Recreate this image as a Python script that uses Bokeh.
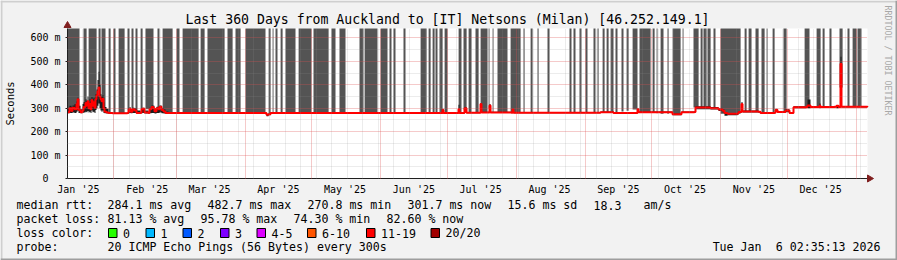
import math
import datetime as dt
import numpy as np
from bokeh.plotting import figure
from bokeh.models import (FixedTicker, Label, BoxAnnotation, PolyAnnotation, Range1d,
                          LinearAxis, Grid, CustomJSTickFormatter)
from bokeh.embed import file_html
from bokeh.resources import INLINE

# ---------------- data ----------------
title_text = "Last 360 Days from Auckland to [IT] Netsons (Milan) [46.252.149.1]"
t_start = dt.datetime(2025, 1, 11, 2, 35, 13)
t_end = dt.datetime(2026, 1, 6, 2, 35, 13)

month_labels = ["Jan '25", "Feb '25", "Mar '25", "Apr '25", "May '25", "Jun '25",
                "Jul '25", "Aug '25", "Sep '25", "Oct '25", "Nov '25", "Dec '25"]
y_ticks = [0, 100, 200, 300, 400, 500, 600]
y_tick_labels = ["0  ", "100 m", "200 m", "300 m", "400 m", "500 m", "600 m"]
y_minor = [50, 150, 250, 350, 450, 550]
y_max = 640

# grey smoke bands (days since start of graph)
smoke_start_day = [0.0, 7.2, 9.5, 14.0, 15.3, 18.5, 20.7, 23.0, 27.0, 28.8, 30.6, 32.9, 35.1,
                   40.5, 42.8, 49.1, 51.8, 59.9, 63.0, 72.0, 75.6, 80.1, 90.5, 92.3, 93.6,
                   95.9, 98.1, 104.0, 110.7, 118.8, 122.4, 131.4, 133.7, 140.9, 144.9, 146.7,
                   151.2, 158.9, 162.5, 164.3, 165.6, 167.4, 169.7, 176.0, 178.2, 180.5, 183.6,
                   185.9, 189.5, 191.3, 193.5, 199.4, 205.2, 208.4, 211.5, 216.0, 225.9, 227.7,
                   230.4, 233.1, 236.7, 238.5, 240.8, 242.6, 244.4, 246.6, 249.3, 251.6, 254.3,
                   257.4, 263.3, 265.1, 266.9, 270.0, 272.3, 276.8, 281.7, 284.9, 286.2, 288.0,
                   290.7, 293.9, 304.7, 306.5, 309.6, 312.3, 314.6, 317.3, 322.2, 331.7, 337.1,
                   339.8, 342.9, 347.4, 351.0, 353.3, 355.5]
smoke_end_day = [5.4, 8.6, 13.1, 14.9, 17.1, 19.4, 21.6, 25.7, 27.9, 29.7, 31.5, 33.8, 38.7,
                 41.4, 47.3, 50.4, 59.0, 61.7, 70.7, 74.3, 77.9, 89.1, 91.4, 92.7, 94.5,
                 96.8, 102.6, 109.8, 117.5, 120.6, 125.1, 133.2, 139.5, 144.0, 145.8, 147.6,
                 152.1, 161.6, 163.4, 165.2, 166.5, 168.8, 171.0, 177.3, 179.6, 181.8, 185.0,
                 189.0, 189.9, 191.7, 198.0, 203.9, 205.7, 209.3, 212.0, 216.9, 226.8, 228.6,
                 231.3, 234.0, 237.6, 239.0, 241.7, 243.5, 245.7, 247.5, 250.2, 252.5, 256.5,
                 262.4, 264.2, 265.5, 268.2, 270.5, 275.9, 277.2, 284.0, 285.8, 287.6, 289.4,
                 291.6, 302.9, 305.6, 307.8, 311.0, 313.7, 315.0, 318.2, 323.6, 333.9, 338.9,
                 340.7, 343.8, 348.8, 351.9, 355.1, 357.3]

# median rtt (ms) with dark smoke range around it
med_day = [0.0, 0.9, 1.8, 2.25, 3.15, 4.05, 4.5, 4.95, 5.85, 6.75, 7.2, 8.1, 8.55, 9.0, 9.45,
           9.9, 10.35, 10.8, 11.25, 11.7, 12.15, 12.6, 13.05, 13.5, 13.95, 14.4, 14.85, 15.3,
           15.75, 16.2, 16.65, 17.55, 18.45, 19.35, 20.25, 27.0, 27.45, 27.9, 28.35, 29.25,
           30.15, 31.05, 32.85, 33.3, 33.75, 34.65, 36.45, 36.9, 37.8, 38.7, 39.15, 40.05,
           40.95, 41.4, 42.3, 43.2, 44.1, 45.45, 89.1, 89.55, 90.45, 91.35, 167.85, 168.75,
           169.2, 175.5, 175.95, 176.4, 177.75, 178.65, 179.55, 185.4, 185.85, 186.3, 189.45,
           189.9, 190.35, 199.8, 200.25, 200.7, 239.85, 245.7, 256.5, 256.95, 272.25, 275.85,
           276.3, 282.15, 282.6, 289.35, 292.95, 294.75, 295.65, 297.0, 301.5, 301.95, 303.3,
           303.75, 310.95, 311.85, 318.15, 318.6, 319.5, 322.65, 323.1, 324.9, 326.25, 326.7,
           332.55, 333.0, 334.35, 337.95, 338.4, 338.85, 345.15, 346.05, 346.95, 347.85,
           348.3, 360.0]
med_ms = [283, 300, 288, 302, 296, 318, 338, 292, 283, 290, 305, 322, 312, 330, 300,
          318, 296, 335, 310, 325, 302, 338, 355, 372, 388, 350, 338, 330,
          340, 300, 285, 282, 279, 280, 278, 279, 292, 298, 285, 296,
          290, 280, 281, 295, 298, 282, 279, 296, 305, 300, 287, 300,
          296, 306, 292, 286, 280, 279, 279, 272, 274, 279, 279, 292,
          280, 280, 296, 280, 280, 300, 281, 281, 318, 282, 282,
          312, 282, 281, 294, 281, 283, 280, 296, 283, 274, 274,
          283, 284, 303, 300, 294, 289, 279, 276, 277, 284, 318,
          286, 285, 280, 281, 292, 284, 284, 290, 279, 279, 304,
          305, 312, 305, 305, 310, 305, 306, 310, 305, 490,
          306, 305]
smoke_lo_ms = [278, 280, 279, 282, 280, 285, 290, 280, 278, 280, 282, 285, 283, 288, 282,
               285, 280, 290, 283, 285, 280, 292, 300, 310, 320, 300, 290, 285,
               290, 280, 278, 277, 276, 276, 275, 276, 278, 280, 278, 280,
               279, 276, 277, 278, 280, 277, 276, 278, 280, 280, 277, 280,
               279, 282, 278, 277, 276, 276, 276, 266, 270, 276, 276, 280,
               277, 277, 282, 277, 277, 285, 278, 278, 290, 279, 279,
               290, 279, 278, 285, 278, 280, 277, 285, 280, 270, 270,
               280, 281, 296, 294, 288, 282, 268, 270, 272, 280, 295,
               282, 281, 277, 278, 284, 280, 280, 283, 276, 276, 300,
               302, 300, 302, 302, 300, 302, 303, 300, 302, 420,
               303, 302]
smoke_hi_ms = [300, 310, 305, 312, 318, 330, 345, 310, 296, 318, 325, 338, 332, 350, 320,
               340, 330, 348, 338, 345, 330, 360, 380, 420, 455, 400, 360, 350,
               355, 325, 305, 298, 284, 283, 281, 282, 300, 305, 295, 302,
               300, 290, 285, 300, 302, 290, 283, 302, 312, 310, 298, 306,
               300, 312, 300, 294, 286, 282, 282, 276, 277, 282, 282, 298,
               283, 283, 315, 283, 283, 305, 284, 284, 320, 285, 285,
               318, 285, 284, 298, 284, 286, 283, 300, 286, 277, 277,
               286, 287, 308, 305, 300, 294, 283, 279, 280, 288, 326,
               290, 288, 283, 284, 298, 287, 287, 296, 282, 282, 308,
               308, 337, 308, 308, 320, 308, 309, 314, 308, 520,
               309, 308]

rtt_items = ["284.1 ms avg", "482.7 ms max", "270.8 ms min", "301.7 ms now", "15.6 ms sd", "18.3", "am/s"]
loss_items = ["81.13 % avg", "95.78 % max", "74.30 % min", "82.60 % now"]
loss_color_labels = ["0", "1", "2", "3", "4-5", "6-10", "11-19", "20/20"]
loss_colors = ["#26ff00", "#00b8ff", "#0059ff", "#7e00ff", "#dd00ff", "#ff5500", "#ff0000", "#a10000"]
probe_text = "20 ICMP Echo Pings (56 Bytes) every 300s"
stamp_parts = ["Tue Jan", "6 02:35:13 2026"]   # "Tue Jan  6 02:35:13 2026"

# ---------------- derived ----------------
def day_of(t):
    return (t - t_start).total_seconds() / 86400.0

span_days = day_of(t_end)
month_firsts = [dt.datetime(2025, m, 1) for m in range(1, 13)] + [dt.datetime(2026, 1, 1)]
label_days = [day_of(m + dt.timedelta(days=15)) for m in month_firsts[:12]]
grid_days = [day_of(m) for m in month_firsts if t_start <= m <= t_end]
week_days = []
w = dt.datetime(2025, 1, 18)
while w <= t_end:
    week_days.append(day_of(w))
    w += dt.timedelta(days=7)

# ---------------- layout ----------------
W, H = 897, 260
FL, FT, FW, FH = 67, 28, 800, 150      # data area inside the canvas (pixels)
FB = FT + FH
MONO = "DejaVu Sans Mono"
CW = 7.0                                # legend character advance
kx = span_days / FW                     # days per pixel
ky = y_max / FH                         # ms per pixel

x_range = Range1d(-FL * kx, span_days + (W - FL - FW) * kx)
y_range = Range1d(-(H - FB) * ky, y_max + FT * ky)

def sx(x):
    return x

def sy(y):
    return H - y

p = figure(width=W, height=H, x_range=x_range, y_range=y_range,
           output_backend="svg", toolbar_location=None,
           x_axis_location=None, y_axis_location=None,
           min_border=0, min_border_left=0, min_border_right=0,
           min_border_top=0, min_border_bottom=0,
           background_fill_color="#F2F2F2", border_fill_color="#F2F2F2",
           outline_line_color=None)
p.grid.visible = False

# white canvas of the graph
p.quad(left=[0], right=[span_days], bottom=[0], top=[y_max], fill_color="white", line_color=None)

# smoke bars
s0 = np.array(smoke_start_day)
s1 = np.array(smoke_end_day)
bar_bottom = np.interp((s0 + s1) / 2, med_day, med_ms)
p.quad(left=s0, right=s1, bottom=bar_bottom, top=y_max,
       fill_color="#545454", line_color=None)

p.varea_step(x=med_day, y1=smoke_lo_ms, y2=smoke_hi_ms, step_mode="after",
             fill_color="#1c1c1c")
p.step(x=med_day, y=med_ms, mode="after", line_color="#ff0000", line_width=2)

# grids
xg = Grid(dimension=0, ticker=FixedTicker(ticks=grid_days, minor_ticks=week_days),
          bounds=(0, span_days), cross_bounds=(0, y_max))
yg = Grid(dimension=1, ticker=FixedTicker(ticks=y_ticks[1:], minor_ticks=y_minor),
          bounds=(0, y_max), cross_bounds=(0, span_days))
for g in (xg, yg):
    g.grid_line_color = "#de4f4f"
    g.grid_line_alpha = 0.6
    g.grid_line_dash = "1 1"
    g.minor_grid_line_color = "#8f8f8f"
    g.minor_grid_line_alpha = 0.35
    g.minor_grid_line_dash = "1 1"
    g.level = "guide"
    p.add_layout(g)

# axes
xa = LinearAxis(fixed_location=0, bounds=(0, span_days),
                ticker=FixedTicker(ticks=label_days),
                formatter=CustomJSTickFormatter(args=dict(t=label_days, n=month_labels), code="""
let b = 0;
for (let i = 0; i < t.length; i++) { if (Math.abs(t[i] - tick) < Math.abs(t[b] - tick)) b = i; }
return n[b];"""))
xa.major_tick_line_color = None
xa.minor_tick_line_color = None
xa.major_label_standoff = -1
xa.axis_line_color = "#1f1f1f"
xa.major_label_text_font = MONO
xa.major_label_text_font_size = "10px"
xa.major_label_text_color = "black"
p.add_layout(xa, "below")

ya = LinearAxis(fixed_location=0, bounds=(0, y_max), ticker=FixedTicker(ticks=y_ticks))
ya.major_label_overrides = {t: l for t, l in zip(y_ticks, y_tick_labels)}
ya.major_tick_in = 0
ya.major_tick_out = 2
ya.major_tick_line_color = "#1f1f1f"
ya.minor_tick_line_color = None
ya.major_label_standoff = 5
ya.axis_line_color = "#1f1f1f"
ya.major_label_text_font = MONO
ya.major_label_text_font_size = "10px"
ya.major_label_text_color = "black"
ya.axis_label = "Seconds"
ya.axis_label_text_font = MONO
ya.axis_label_text_font_size = "10.5px"
ya.axis_label_text_font_style = "normal"
ya.axis_label_text_color = "black"
ya.axis_label_standoff = 11
p.add_layout(ya, "left")

# arrows
arrow_col = "#801f1f"
p.add_layout(PolyAnnotation(xs=[sx(FL - 3.5), sx(FL), sx(FL + 3.5)], ys=[sy(27), sy(21), sy(27)],
                            xs_units="screen", ys_units="screen",
                            fill_color=arrow_col, fill_alpha=1, line_color=arrow_col, line_alpha=1))
p.add_layout(PolyAnnotation(xs=[sx(FL + FW), sx(FL + FW + 6), sx(FL + FW)],
                            ys=[sy(FB - 3.5), sy(FB), sy(FB + 3.5)],
                            xs_units="screen", ys_units="screen",
                            fill_color=arrow_col, fill_alpha=1, line_color=arrow_col, line_alpha=1))

# canvas shading
def box(x0, x1, y0, y1, color, lc=None):
    p.add_layout(BoxAnnotation(left=sx(x0), right=sx(x1), top=sy(y0), bottom=sy(y1),
                               left_units="screen", right_units="screen",
                               top_units="screen", bottom_units="screen",
                               fill_color=color, fill_alpha=1,
                               line_color=lc if lc else color, line_alpha=1 if lc else 0,
                               line_width=1))

box(0, W, 0, 2, "#CFCFCF")
box(0, 2, 0, H, "#CFCFCF")
box(0, W, H - 2, H, "#9E9E9E")
box(W - 2, W, 0, H, "#9E9E9E")

def label(x, y, text, size="11.6px", align="left", color="black", angle=0.0):
    p.add_layout(Label(x=sx(x), y=sy(y), x_units="screen", y_units="screen", text=text,
                       text_font=MONO, text_font_size=size, text_align=align,
                       text_baseline="middle", text_color=color, angle=angle))

label(447, 19, title_text, size="13.2px", align="center")
label(887, 60, "RRDTOOL / TOBI OETIKER", size="8.3px", align="center", color="#a8a8a8",
      angle=-math.pi / 2)

L1, L2, L3, L4 = 204.5, 218.5, 232.5, 246.5
label(16, L1, "median rtt:")
for x, t in zip([107, 207, 307, 407, 507, 593, 643], rtt_items):
    label(x, L1, t)
label(16, L2, "packet loss:")
for x, t in zip([107, 200, 293, 386], loss_items):
    label(x, L2, t)
label(16, L3, "loss color:")
for x, t, c in zip([108, 145.5, 182.5, 220, 256.5, 307, 366, 430.5], loss_color_labels, loss_colors):
    box(x, x + 8.5, L3 - 4.5, L3 + 4.5, c, lc="black")
    label(x + 14.5, L3, t)
label(16, L4, "probe:")
label(107, L4, probe_text)
stamp_right = 880
date_start = stamp_right - len(stamp_parts[1]) * CW
label(stamp_right, L4, stamp_parts[1], align="right")
label(date_start - 2 * CW, L4, stamp_parts[0], align="right")

open("out.html", "w").write(file_html(p, INLINE))
